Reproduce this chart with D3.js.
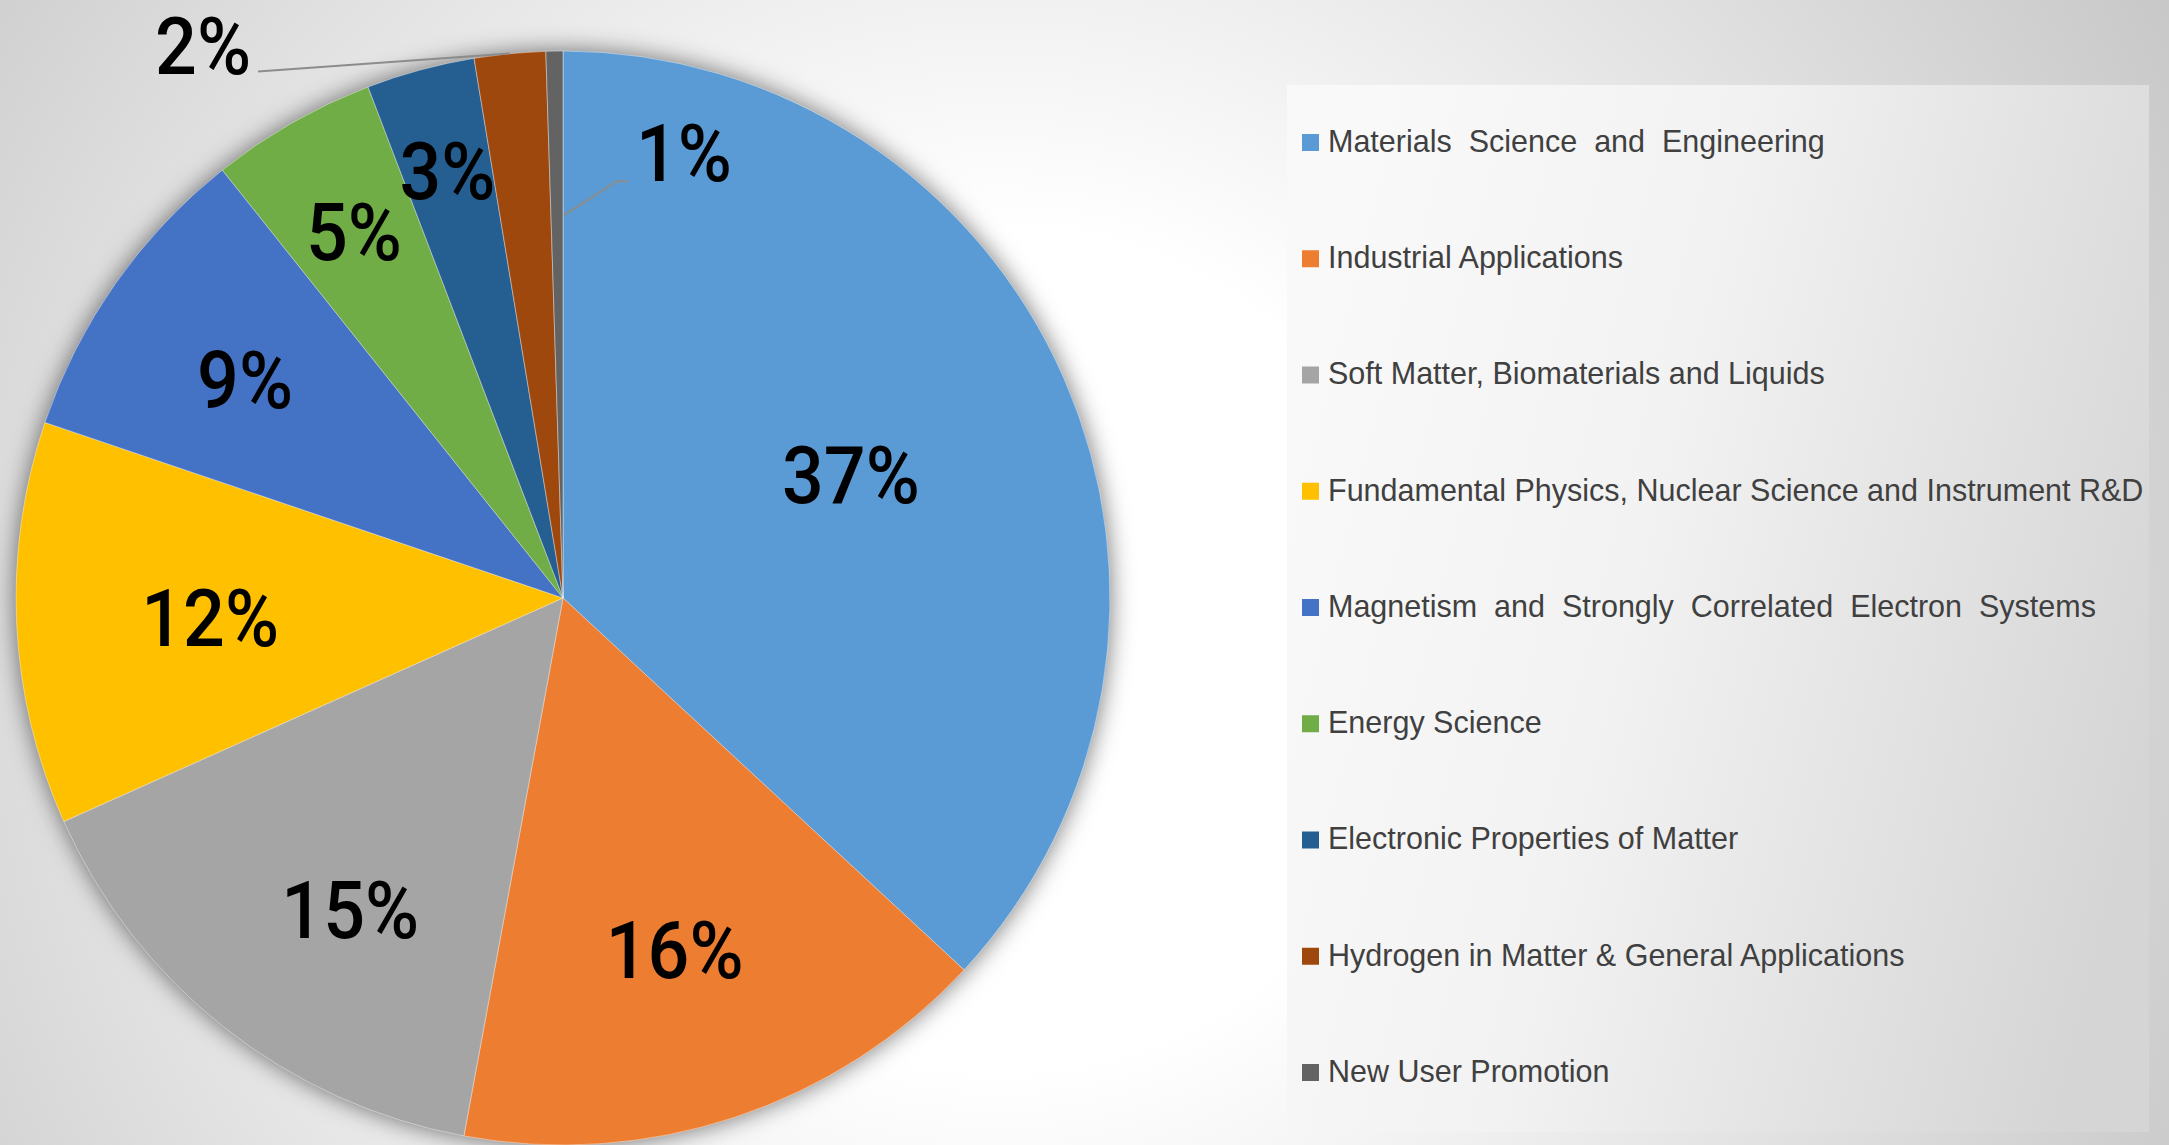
<!DOCTYPE html>
<html>
<head>
<meta charset="utf-8">
<script src="https://cdn.jsdelivr.net/npm/d3@7"></script>
<style>
  html, body { margin: 0; padding: 0; background: #fff; }
  svg { display: block; }
</style>
</head>
<body>
<div id="chart"></div>
<script>
// ---------------- data ----------------
const categories = [
  "Materials  Science  and  Engineering",
  "Industrial Applications",
  "Soft Matter, Biomaterials and Liquids",
  "Fundamental Physics, Nuclear Science and Instrument R&D",
  "Magnetism  and  Strongly  Correlated  Electron  Systems",
  "Energy Science",
  "Electronic Properties of Matter",
  "Hydrogen in Matter & General Applications",
  "New User Promotion"
];
const values = [36.9, 16.0, 15.4, 11.9, 9.1, 4.9, 3.2, 2.1, 0.5];
const colors = ["#5B9BD5", "#ED7D31", "#A5A5A5", "#FFC000", "#4472C4",
                "#70AD47", "#255E91", "#9E480E", "#636363"];

// ---------------- layout ----------------
const W = 2169, H = 1145;
const cx = 563, cy = 598, R = 547;
// radial position (fraction of R) and angular shift (deg) of inside labels
const labelRadius = [0.573, 0.673, 0.689, 0.646, 0.706, 0.771, 0.81];
const labelShift  = [0.3, 0.7, -3.8, -0.4, -0.5, 0, 0];
// callout labels (offset relative to pie centre, in units of R)
const callouts = {
  7: { dx: -0.658, dy: -1.010, type: "left" },
  8: { dx: 0.221, dy: -0.815, type: "right" }
};

const svg = d3.select("#chart").append("svg")
  .attr("width", W).attr("height", H);

const defs = svg.append("defs");
const bg = defs.append("radialGradient").attr("id", "bg")
  .attr("gradientUnits", "userSpaceOnUse")
  .attr("cx", 1000).attr("cy", 650).attr("r", 1400);
bg.append("stop").attr("offset", 0).attr("stop-color", "#ffffff");
bg.append("stop").attr("offset", 0.3).attr("stop-color", "#ffffff");
bg.append("stop").attr("offset", 1).attr("stop-color", "#c4c4c4");

const lg = defs.append("linearGradient").attr("id", "lg")
  .attr("x1", 0).attr("y1", 0.35).attr("x2", 1).attr("y2", 0.65);
lg.append("stop").attr("offset", 0).attr("stop-color", "#f9f9f9");
lg.append("stop").attr("offset", 0.4).attr("stop-color", "#f2f2f2");
lg.append("stop").attr("offset", 1).attr("stop-color", "#d5d5d5");

const f = defs.append("filter").attr("id", "shadow")
  .attr("x", "-20%").attr("y", "-20%").attr("width", "140%").attr("height", "140%");
f.append("feGaussianBlur").attr("in", "SourceAlpha").attr("stdDeviation", 12).attr("result", "b");
f.append("feFlood").attr("flood-color", "#000").attr("flood-opacity", 0.55).attr("result", "c");
f.append("feComposite").attr("in", "c").attr("in2", "b").attr("operator", "in");

svg.append("rect").attr("width", W).attr("height", H).attr("fill", "url(#bg)");

// ---------------- pie ----------------
const pie = d3.pie().sort(null).value(d => d)(values);
const arc = d3.arc().innerRadius(0).outerRadius(R);
const g = svg.append("g").attr("transform", `translate(${cx},${cy})`);

g.append("circle").attr("r", R).attr("fill", "#000").attr("filter", "url(#shadow)");

g.selectAll("path.slice").data(pie).join("path")
  .attr("class", "slice")
  .attr("d", arc)
  .attr("fill", (d, i) => colors[i])
  .attr("stroke", "#ffffff").attr("stroke-opacity", 0.5).attr("stroke-width", 0.8);

const labelFont = "Roboto, 'Liberation Sans', sans-serif";
const fmt = v => Math.round(v) + "%";
function addLabel(x, y, txt) {
  g.append("text")
    .attr("transform", `translate(${x},${y}) scale(0.92,1)`)
    .attr("text-anchor", "middle").attr("dy", "0.36em")
    .attr("font-family", labelFont).attr("font-weight", 500)
    .attr("font-size", 80).attr("fill", "#000")
    .text(txt);
}

pie.forEach((d, i) => {
  const mid = (d.startAngle + d.endAngle) / 2;
  if (callouts[i]) {
    const c = callouts[i];
    const tx = c.dx * R, ty = c.dy * R;
    addLabel(tx, ty, fmt(values[i]));
    let pts;
    if (c.type === "left") {
      const ex = R * Math.sin(mid), ey = -R * Math.cos(mid);
      pts = [[tx + 55, ty + 26], [ex, ey]];
    } else {
      const r0 = 0.70 * R;
      const sx = r0 * Math.sin(d.endAngle) + 1, sy = -r0 * Math.cos(mid);
      const endX = tx - 56, endY = ty + 29;
      pts = [[sx, sy], [endX - 11, endY], [endX, endY]];
    }
    g.append("path")
      .attr("d", d3.line()(pts))
      .attr("fill", "none").attr("stroke", "#8c8c8c").attr("stroke-width", 2);
  } else {
    const r = labelRadius[i] * R;
    const a = mid + labelShift[i] * Math.PI / 180;
    addLabel(r * Math.sin(a), -r * Math.cos(a), fmt(values[i]));
  }
});

// ---------------- legend ----------------
const lx = 1287, ly = 85, lw = 862, lh = 1047;
svg.append("rect").attr("x", lx).attr("y", ly).attr("width", lw).attr("height", lh)
  .attr("fill", "url(#lg)");

const rowY = d3.scalePoint().domain(d3.range(categories.length)).range([ly + 56, ly + 986]);
const leg = svg.append("g").selectAll("g").data(categories).join("g")
  .attr("transform", (d, i) => `translate(${lx + 15},${rowY(i)})`);
leg.append("rect").attr("x", 0).attr("y", -7).attr("width", 17).attr("height", 17)
  .attr("fill", (d, i) => colors[i]);
leg.append("text").attr("x", 26).attr("y", 0).attr("dy", "0.36em")
  .attr("font-family", "'Liberation Sans', Arial, sans-serif")
  .attr("font-size", 30.5).attr("fill", "#404040")
  .style("white-space", "pre")
  .text(d => d);
</script>
</body>
</html>
